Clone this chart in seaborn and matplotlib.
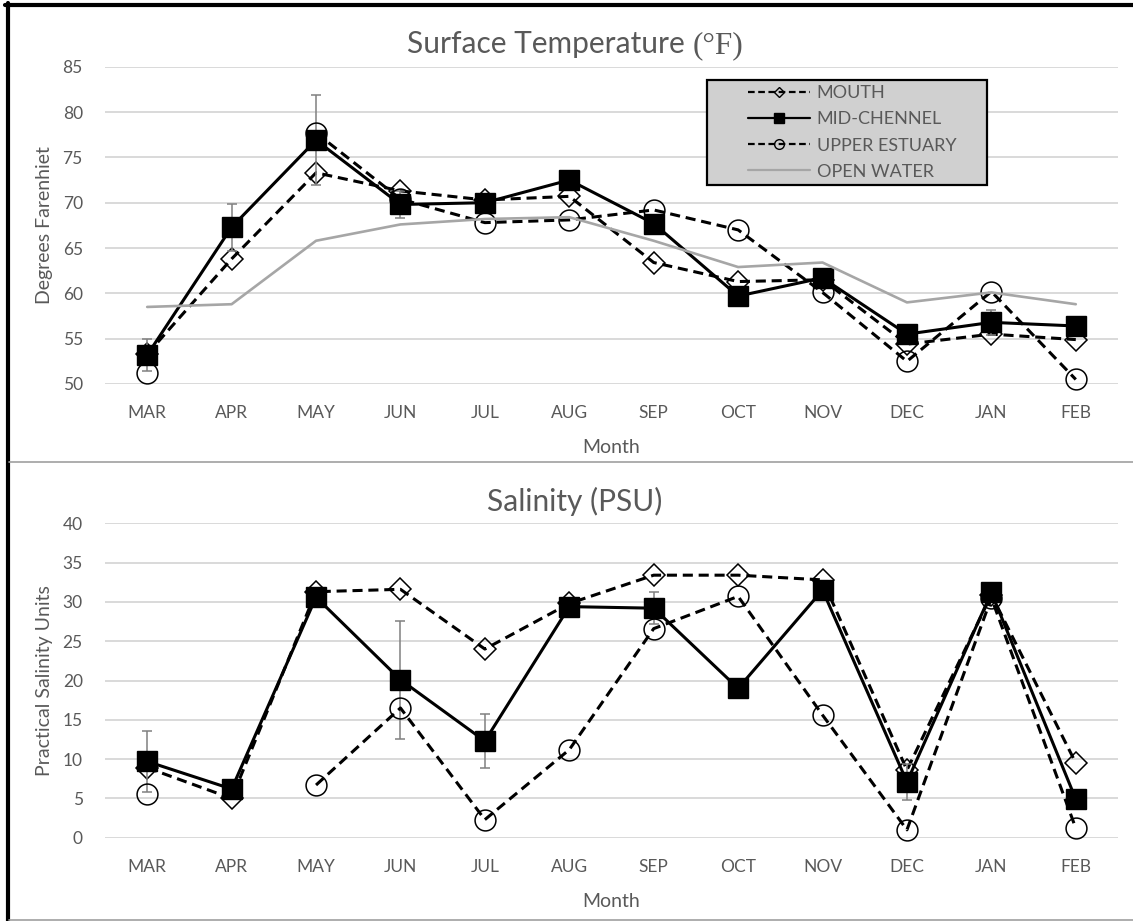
import numpy as np
import pandas as pd
import seaborn as sns
import matplotlib
matplotlib.use("Agg")
import matplotlib.pyplot as plt
from matplotlib.lines import Line2D
from matplotlib.patches import Rectangle

# ---- data -------------------------------------------------------------
months = ["MAR", "APR", "MAY", "JUN", "JUL", "AUG", "SEP", "OCT", "NOV", "DEC", "JAN", "FEB"]

temp_mouth = [53.3, 63.8, 73.3, 71.3, 70.3, 70.7, 63.4, 61.3, 61.5, 54.4, 55.5, 54.9]
temp_mid = [53.2, 67.3, 76.9, 69.8, 70.0, 72.5, 67.7, 59.7, 61.7, 55.5, 56.8, 56.4]
temp_mid_err = [1.8, 2.6, 5.0, 1.5, 0.5, 1.0, 0.8, 0.5, 0.6, 0.6, 1.4, 0.5]
temp_upper = [51.2, np.nan, 77.7, 70.4, 67.8, 68.1, 69.2, 67.0, 60.1, 52.5, 60.2, 50.5]
temp_open = [58.5, 58.8, 65.8, 67.6, 68.2, 68.4, 65.8, 62.9, 63.4, 59.0, 60.1, 58.8]

sal_mouth = [8.9, 5.0, 31.3, 31.6, 24.0, 29.8, 33.4, 33.4, 32.8, 8.6, 30.9, 9.5]
sal_mid = [9.7, 6.2, 30.6, 20.1, 12.3, 29.4, 29.2, 19.0, 31.5, 7.1, 31.2, 4.9]
sal_mid_err = [3.9, 0.6, 0.8, 7.5, 3.4, 0.8, 2.0, 0.8, 0.6, 2.3, 0.5, 0.5]
sal_upper = [5.6, np.nan, 6.7, 16.5, 2.3, 11.2, 26.6, 30.7, 15.6, 1.0, 30.5, 1.2]

series_names = ["MOUTH", "MID-CHENNEL", "UPPER ESTUARY", "OPEN WATER"]

# ---- style ------------------------------------------------------------
sns.set_style("white")
plt.rcParams["font.family"] = ["Lato", "DejaVu Sans"]
TXT = "#595959"
GRID = "#d9d9d9"
OPEN = "#a6a6a6"
ERR = "#808080"
DASH = (0, (3.3, 1.9))

W, H = 1133, 921
fig = plt.figure(figsize=(W / 100, H / 100), dpi=100)


def fx(x):
    return x / W


def fy(y):
    return 1 - y / H


def make_axes(top_px, bottom_px):
    left, right = 105, 1118
    return fig.add_axes([fx(left), fy(bottom_px), (right - left) / W, (bottom_px - top_px) / H])


def long_frame(values):
    """Long-form table; a new segment starts after every missing value."""
    seg, rows = 0, []
    for i, v in enumerate(values):
        if np.isnan(v):
            seg += 1
            continue
        rows.append({"month": i, "value": v, "segment": seg})
    return pd.DataFrame(rows)


def draw_series(ax, values, **kws):
    df = long_frame(values)
    sns.lineplot(data=df, x="month", y="value", units="segment", estimator=None,
                 ax=ax, legend=False, sort=False, clip_on=False, **kws)


def style_axes(ax, ymin, ymax, step):
    ax.set_xlim(-0.5, 11.5)
    ax.set_ylim(ymin, ymax)
    ax.set_yticks(np.arange(ymin, ymax + 0.1, step))
    ax.set_xticks(range(len(months)))
    ax.set_xticklabels(months)
    for s in ax.spines.values():
        s.set_visible(False)
    ax.grid(axis="y", color=GRID, linewidth=1.4, zorder=0)
    ax.grid(axis="x", visible=False)
    ax.set_axisbelow(True)
    ax.tick_params(axis="y", length=0, pad=16, labelsize=12.5, labelcolor=TXT)
    ax.tick_params(axis="x", length=0, pad=15, labelsize=12.5, labelcolor=TXT)
    ax.set_xlabel("")
    ax.set_ylabel("")


def draw_panel(ax, mouth, mid, mid_err, upper, open_water=None):
    draw_series(ax, mouth, color="black", linewidth=2.2, linestyle=DASH,
                marker="D", markersize=11.5, markerfacecolor="none",
                markeredgecolor="black", markeredgewidth=1.1, zorder=3)
    ax.errorbar(range(len(months)), mid, yerr=mid_err, fmt="none", ecolor=ERR,
                elinewidth=1.1, capsize=3.9, capthick=1.1, zorder=3.5, clip_on=False)
    draw_series(ax, mid, color="black", linewidth=2.2, linestyle="-",
                marker="s", markersize=15, markerfacecolor="black",
                markeredgecolor="black", markeredgewidth=1, zorder=4)
    draw_series(ax, upper, color="black", linewidth=2.2, linestyle=DASH,
                marker="o", markersize=15, markerfacecolor="none",
                markeredgecolor="black", markeredgewidth=1.1, zorder=5)
    if open_water is not None:
        draw_series(ax, open_water, color=OPEN, linewidth=1.9, linestyle="-",
                    marker=None, zorder=6)


# ---- temperature panel ------------------------------------------------
ax1 = make_axes(66.7, 384)
draw_panel(ax1, temp_mouth, temp_mid, temp_mid_err, temp_upper, temp_open)
style_axes(ax1, 50, 85, 5)

# ---- salinity panel ---------------------------------------------------
ax2 = make_axes(523.3, 837.7)
draw_panel(ax2, sal_mouth, sal_mid, sal_mid_err, sal_upper)
style_axes(ax2, 0, 40, 5)

# ---- titles and axis labels ------------------------------------------
renderer = fig.canvas.get_renderer()
# the unit part of the first title is set in a serif face
t_main = fig.text(0, fy(53.5), "Surface Temperature ", ha="left", va="baseline",
                  fontsize=21.5, color=TXT)
t_unit = fig.text(0, fy(53.5), "(°F)", ha="left", va="baseline",
                  fontsize=22.5, color=TXT, family=["Liberation Serif", "DejaVu Serif"])
w_main = t_main.get_window_extent(renderer).width
w_unit = t_unit.get_window_extent(renderer).width
x_start = 575 - (w_main + w_unit) / 2
t_main.set_x(fx(x_start))
t_unit.set_x(fx(x_start + w_main))

fig.text(fx(575), fy(511), "Salinity (PSU)", ha="center", va="baseline",
         fontsize=21.5, color=TXT)
fig.text(fx(611.5), fy(453), "Month", ha="center", va="baseline", fontsize=14, color=TXT)
fig.text(fx(611.5), fy(906.5), "Month", ha="center", va="baseline", fontsize=14, color=TXT)
fig.text(fx(45), fy(225.3), "Degrees Farenhiet", ha="center", va="center",
         rotation=90, fontsize=14, color=TXT)
fig.text(fx(45), fy(680.5), "Practical Salinity Units", ha="center", va="center",
         rotation=90, fontsize=14, color=TXT)

# ---- legend -----------------------------------------------------------
def ax_frac(xp, yp, top_px, bottom_px):
    return (xp - 105) / 1013, 1 - (yp - top_px) / (bottom_px - top_px)

bx0, by0 = ax_frac(707, 185, 66.7, 384)
bx1, by1 = ax_frac(987, 80, 66.7, 384)
ax1.add_patch(Rectangle((bx0, by0), bx1 - bx0, by1 - by0, transform=ax1.transAxes,
                        facecolor="#d0d0d0", edgecolor="black", linewidth=1.6,
                        zorder=10, clip_on=False))

handles = [
    Line2D([], [], color="black", linewidth=1.6, linestyle=(0, (3, 1.6)), marker="D",
           markersize=5.5, markerfacecolor="none", markeredgecolor="black", markeredgewidth=1),
    Line2D([], [], color="black", linewidth=1.6, linestyle="-", marker="s",
           markersize=7.5, markerfacecolor="black", markeredgecolor="black"),
    Line2D([], [], color="black", linewidth=1.6, linestyle=(0, (3, 1.6)), marker="o",
           markersize=7, markerfacecolor="none", markeredgecolor="black", markeredgewidth=1),
    Line2D([], [], color=OPEN, linewidth=1.6, linestyle="-"),
]
hx, hy = ax_frac(748, 132.5, 66.7, 384)
leg = ax1.legend(handles, series_names, loc="center left", bbox_to_anchor=(hx, hy),
                 frameon=False, borderpad=0, borderaxespad=0, handlelength=3.45,
                 handletextpad=0.35, labelspacing=0.56, fontsize=13, labelcolor=TXT)
leg.set_zorder(11)

# ---- chart-area borders ----------------------------------------------
fig.add_artist(Line2D([fx(5), fx(W)], [fy(5), fy(5)], color="black", linewidth=3))
fig.add_artist(Line2D([fx(7.5), fx(7.5)], [fy(3.5), fy(H)], color="black", linewidth=3))
fig.add_artist(Line2D([fx(9), fx(W)], [fy(461.7), fy(461.7)], color="#a0a0a0", linewidth=1.2))
fig.add_artist(Line2D([fx(9), fx(W)], [fy(919.5), fy(919.5)], color="#a0a0a0", linewidth=1.2))

fig.savefig("out.png", dpi=100, facecolor="white")
